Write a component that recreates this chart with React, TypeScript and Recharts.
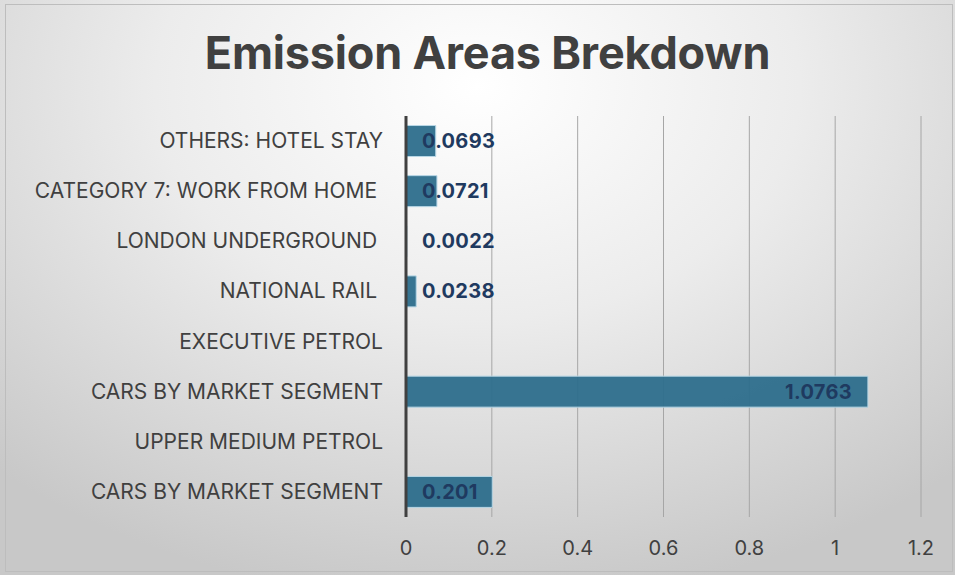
import React from "react";
import { BarChart, Bar, XAxis, YAxis, CartesianGrid, LabelList } from "recharts";

const categories = [
  "OTHERS: HOTEL STAY",
  "CATEGORY 7: WORK FROM HOME ",
  "LONDON UNDERGROUND ",
  "NATIONAL RAIL ",
  "EXECUTIVE PETROL",
  "CARS BY MARKET SEGMENT",
  "UPPER MEDIUM PETROL",
  "CARS BY MARKET SEGMENT",
];
const values: (number | null)[] = [0.0693, 0.0721, 0.0022, 0.0238, null, 1.0763, null, 0.201];
const xTicks = [0, 0.2, 0.4, 0.6, 0.8, 1, 1.2];

const data = categories.map((c, i) => ({ id: `c${i}`, label: c, value: values[i] }));

const FONT = "Inter, 'Liberation Sans', sans-serif";
const LABEL_FONT = `700 20px ${FONT}`;

let ctx: CanvasRenderingContext2D | null = null;
function measure(text: string): number {
  if (typeof document === "undefined") return text.length * 11;
  if (!ctx) ctx = document.createElement("canvas").getContext("2d");
  if (!ctx) return text.length * 11;
  ctx.font = LABEL_FONT;
  return ctx.measureText(text).width + text.length * 0.3;
}

const YTick = (props: any) => {
  const { x, y, payload } = props;
  const d = data.find((r) => r.id === payload.value);
  return (
    <text
      x={x - 23}
      y={y}
      dy={7}
      textAnchor="end"
      fill="#404040"
      style={{ whiteSpace: "pre", fontFamily: FONT, fontSize: 21 }}
    >
      {d ? d.label : ""}
    </text>
  );
};

const BarLabel = (props: any) => {
  const { x, y, width, height, value } = props;
  if (value === null || value === undefined) return null;
  const text = String(value);
  const w = measure(text);
  const end = Math.max(x + width - 16, x + 16 + w);
  return (
    <text
      x={end}
      y={y + height / 2}
      dy={7}
      textAnchor="end"
      fill="#1f3a60"
      style={{ fontFamily: FONT, fontSize: 20, fontWeight: 700, letterSpacing: 0.3 }}
    >
      {text}
    </text>
  );
};

export default function App() {
  return (
    <div
      style={{
        position: "absolute",
        left: 0,
        top: 0,
        width: 955,
        height: 575,
        background: "radial-gradient(ellipse 75% 90% at 50% 15%, #ffffff 0%, #ececec 45%, #c8c8c8 100%)",
        overflow: "hidden",
      }}
    >
      <div
        style={{
          position: "absolute",
          left: 5,
          top: 4,
          width: 948,
          height: 568,
          border: "1px solid #bdbdbd",
          boxSizing: "border-box",
        }}
      />
      <div
        style={{
          position: "absolute",
          left: 0,
          top: 23,
          width: 975,
          textAlign: "center",
          fontFamily: FONT,
          fontWeight: 700,
          fontSize: 45,
          color: "#404040",
          letterSpacing: -0.2,
          lineHeight: "60px",
        }}
      >
        Emission Areas Brekdown
      </div>
      <div style={{ position: "absolute", left: 0, top: 0 }}>
        <BarChart
          width={955}
          height={575}
          data={data}
          layout="vertical"
          margin={{ top: 116, right: 34, bottom: 10, left: 0 }}
          barCategoryGap="19%"
        >
          <CartesianGrid horizontal={false} stroke="#a6a6a6" strokeWidth={1} />
          <XAxis
            type="number"
            domain={[0, 1.2]}
            ticks={xTicks}
            axisLine={false}
            tickLine={false}
            height={48}
            tickMargin={18}
            tick={{ fill: "#404040", fontSize: 20, fontFamily: FONT }}
            tickFormatter={(v: number) => String(v)}
          />
          <YAxis
            type="category"
            dataKey="id"
            width={406}
            axisLine={{ stroke: "#404040", strokeWidth: 3 }}
            tickLine={false}
            tickSize={0}
            tickMargin={0}
            tick={<YTick />}
            interval={0}
          />
          <Bar
            dataKey="value"
            fill="#2d6e8c"
            fillOpacity={0.95}
            stroke="#b8d7e6"
            strokeWidth={1}
            isAnimationActive={false}
          >
            <LabelList dataKey="value" content={<BarLabel />} />
          </Bar>
        </BarChart>
      </div>
    </div>
  );
}
